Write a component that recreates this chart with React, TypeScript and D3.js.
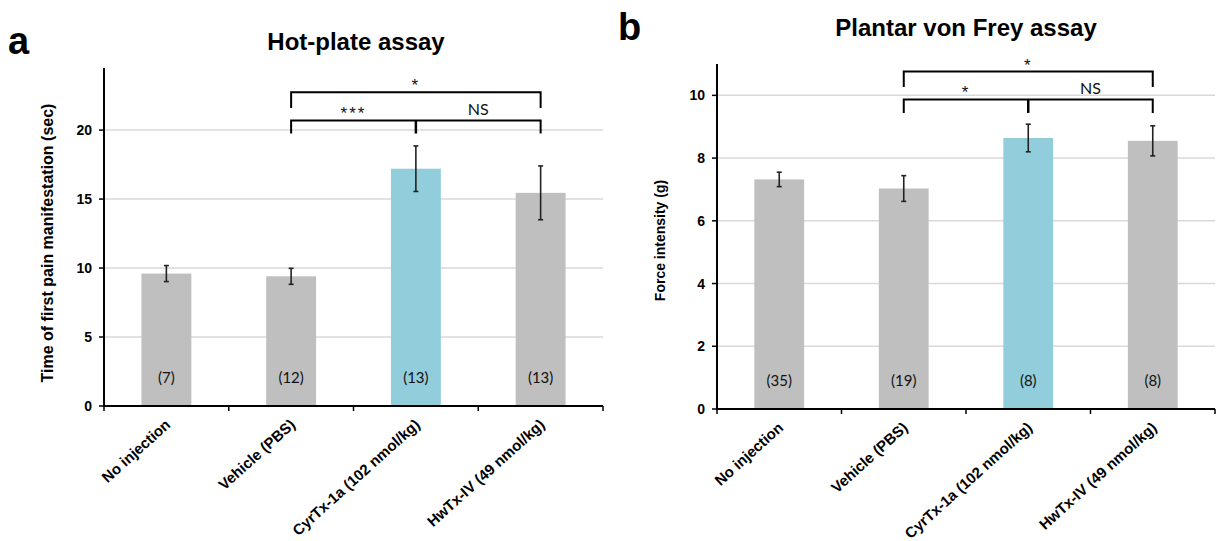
import React from "react";
import * as d3 from "d3";

const categories = ["No injection", "Vehicle (PBS)", "CyrTx-1a (102 nmol/kg)", "HwTx-IV (49 nmol/kg)"];
const barColors = ["#bfbfbf", "#bfbfbf", "#92cddc", "#bfbfbf"];

const hotMeans = [9.6, 9.4, 17.2, 15.45];
const hotErrors = [0.58, 0.58, 1.65, 1.95];
const hotN = ["(7)", "(12)", "(13)", "(13)"];
const hotTicks = [0, 5, 10, 15, 20];

const freyMeans = [7.32, 7.03, 8.64, 8.55];
const freyErrors = [0.23, 0.41, 0.44, 0.48];
const freyN = ["(35)", "(19)", "(8)", "(8)"];
const freyTicks = [0, 2, 4, 6, 8, 10];

// significance brackets (levels in data units)
const hotBrackets = [
  { from: 1, to: 3, mid: null, labels: ["*"], level: 22.75, drop: 21.6 },
  { from: 1, to: 3, mid: 2, labels: ["***", "NS"], level: 20.7, drop: 19.75 },
];
const freyBrackets = [
  { from: 1, to: 3, mid: null, labels: ["*"], level: 10.76, drop: 10.27 },
  { from: 1, to: 3, mid: 2, labels: ["*", "NS"], level: 9.87, drop: 9.44 },
];

const ARIAL = "'Liberation Sans', Arial, sans-serif";
const CAL = "Lato, 'Open Sans', sans-serif";

type PanelProps = {
  letter: string;
  letterX: number;
  letterY: number;
  title: string;
  titleX: number;
  titleY: number;
  yLabel: string;
  yLabelX: number;
  yLabelSize: number;
  yLabelShift: number;
  x0: number;
  x1: number;
  yTop: number;
  yBottom: number;
  yMax: number;
  ticks: number[];
  means: number[];
  errors: number[];
  ns: string[];
  brackets: any[];
};

function SigLabel({ x, y, text }: { x: number; y: number; text: string }) {
  const isStar = text.indexOf("*") >= 0;
  return (
    <text
      x={x}
      y={isStar ? y - 1 : y - 5}
      textAnchor="middle"
      fontFamily={isStar ? ARIAL : CAL}
      fontSize={isStar ? 17 : 16}
      letterSpacing={isStar ? 2 : 0}
      fill="#111"
    >
      {text}
    </text>
  );
}

function Panel(p: PanelProps) {
  const x = d3.scaleBand<string>().domain(categories).range([p.x0, p.x1]).paddingInner(0.6).paddingOuter(0.3);
  const xb = d3.scaleBand<string>().domain(categories).range([p.x0, p.x1]);
  const y = d3.scaleLinear().domain([0, p.yMax]).range([p.yBottom, p.yTop]);
  const cx = (i: number) => (xb(categories[i]) as number) + xb.bandwidth() / 2;
  const boundaries = d3.range(categories.length + 1).map((i) => p.x0 + i * xb.bandwidth());

  return (
    <g>
      <text x={p.letterX} y={p.letterY} fontFamily={ARIAL} fontWeight="bold" fontSize={38}>{p.letter}</text>
      <text x={p.titleX} y={p.titleY} textAnchor="middle" fontFamily={ARIAL} fontWeight="bold" fontSize={24}>{p.title}</text>
      {p.ticks.filter((t) => t > 0).map((t) => (
        <line key={"g" + t} x1={p.x0} x2={p.x1} y1={y(t)} y2={y(t)} stroke="#d9d9d9" strokeWidth={1.5} />
      ))}
      {p.means.map((m, i) => (
        <rect key={"b" + i} x={x(categories[i])} y={y(m)} width={x.bandwidth()} height={y(0) - y(m)} fill={barColors[i]} />
      ))}
      {p.means.map((m, i) => (
        <g key={"e" + i} stroke="#222" strokeWidth={1.6}>
          <line x1={cx(i)} x2={cx(i)} y1={y(m + p.errors[i])} y2={y(m - p.errors[i])} />
          <line x1={cx(i) - 2.5} x2={cx(i) + 2.5} y1={y(m + p.errors[i])} y2={y(m + p.errors[i])} />
          <line x1={cx(i) - 2.5} x2={cx(i) + 2.5} y1={y(m - p.errors[i])} y2={y(m - p.errors[i])} />
        </g>
      ))}
      {p.ns.map((n, i) => (
        <text key={"n" + i} x={cx(i)} y={y(0) - 23} textAnchor="middle" fontFamily={CAL} fontSize={15} fill="#111">{n}</text>
      ))}
      <line x1={p.x0} x2={p.x0} y1={p.yTop} y2={p.yBottom + 1} stroke="#000" strokeWidth={2} />
      <line x1={p.x0 - 1} x2={p.x1} y1={p.yBottom} y2={p.yBottom} stroke="#000" strokeWidth={2} />
      {p.ticks.map((t) => (
        <g key={"t" + t}>
          <line x1={p.x0 - 5} x2={p.x0} y1={y(t)} y2={y(t)} stroke="#000" strokeWidth={1.5} />
          <text x={p.x0 - 12} y={y(t) + 5} textAnchor="end" fontFamily={ARIAL} fontWeight="bold" fontSize={14}>{t}</text>
        </g>
      ))}
      {boundaries.map((b, i) => (
        <line key={"xt" + i} x1={b} x2={b} y1={p.yBottom} y2={p.yBottom + 5} stroke="#000" strokeWidth={1.5} />
      ))}
      {categories.map((c, i) => (
        <text key={"xl" + i} transform={`translate(${cx(i) + 5},${p.yBottom + 20}) rotate(-42)`} textAnchor="end" fontFamily={ARIAL} fontWeight="bold" fontSize={15}>{c}</text>
      ))}
      <text transform={`translate(${p.yLabelX},${(p.yTop + p.yBottom) / 2 + p.yLabelShift}) rotate(-90)`} textAnchor="middle" fontFamily={ARIAL} fontWeight="bold" fontSize={p.yLabelSize}>{p.yLabel}</text>
      {p.brackets.map((br, k) => {
        const xl = cx(br.from), xr = cx(br.to);
        const yl = y(br.level), yd = y(br.drop);
        return (
          <g key={"br" + k}>
            <path d={`M${xl},${yd}V${yl}H${xr}V${yd}`} fill="none" stroke="#000" strokeWidth={2} />
            {br.mid !== null && (
              <line x1={cx(br.mid)} x2={cx(br.mid)} y1={yl} y2={yd} stroke="#000" strokeWidth={2.5} />
            )}
            {br.mid === null && <SigLabel x={(xl + xr) / 2} y={yl} text={br.labels[0]} />}
            {br.mid !== null && (
              <>
                <SigLabel x={(xl + cx(br.mid)) / 2} y={yl} text={br.labels[0]} />
                <SigLabel x={(cx(br.mid) + xr) / 2} y={yl} text={br.labels[1]} />
              </>
            )}
          </g>
        );
      })}
    </g>
  );
}

export default function App() {
  return (
    <div style={{ position: "absolute", left: 0, top: 0 }}>
      <svg width={1222} height={541} style={{ display: "block", background: "#fff" }}>
        <Panel
          letter="a" letterX={8} letterY={54}
          title="Hot-plate assay" titleX={356} titleY={50}
          yLabel="Time of first pain manifestation (sec)" yLabelX={53} yLabelSize={16} yLabelShift={6}
          x0={104} x1={603} yTop={68} yBottom={406} yMax={24.5}
          ticks={hotTicks} means={hotMeans} errors={hotErrors} ns={hotN}
          brackets={hotBrackets}
        />
        <Panel
          letter="b" letterX={618} letterY={40}
          title="Plantar von Frey assay" titleX={966} titleY={36}
          yLabel="Force intensity  (g)" yLabelX={665} yLabelSize={14} yLabelShift={4}
          x0={717} x1={1215} yTop={64} yBottom={409} yMax={11}
          ticks={freyTicks} means={freyMeans} errors={freyErrors} ns={freyN}
          brackets={freyBrackets}
        />
      </svg>
    </div>
  );
}
